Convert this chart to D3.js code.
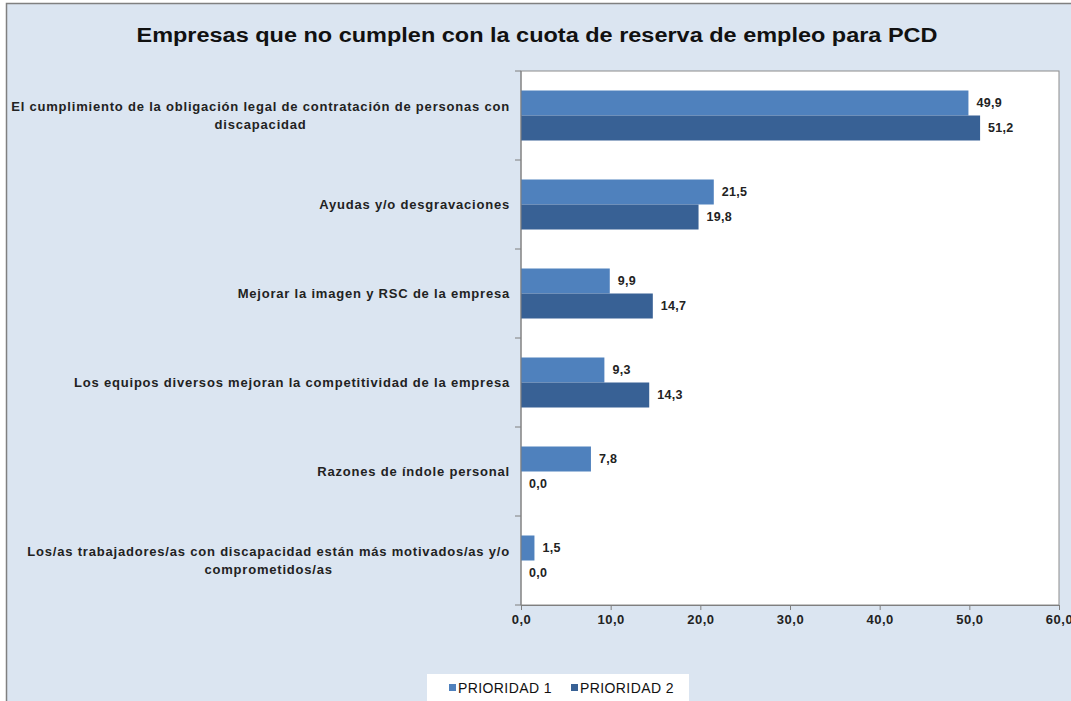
<!DOCTYPE html>
<html>
<head>
<meta charset="utf-8">
<script src="https://cdn.jsdelivr.net/npm/d3@7"></script>
<style>
  html, body { margin: 0; padding: 0; background: #ffffff; }
  svg { display: block; font-family: "Liberation Sans", Arial, sans-serif; }
</style>
</head>
<body>
<svg id="chart" width="1071" height="701"></svg>
<script>
// Chart content
const title = "Empresas que no cumplen con la cuota de reserva de empleo para PCD";
const categories = [
  ["El cumplimiento de la obligación legal de contratación de personas con", "discapacidad"],
  ["Ayudas y/o desgravaciones"],
  ["Mejorar la imagen y RSC de la empresa"],
  ["Los equipos diversos mejoran la competitividad de la empresa "],
  ["Razones de índole personal"],
  ["Los/as trabajadores/as con discapacidad están más motivados/as y/o", "comprometidos/as"]
];
const seriesNames = ["PRIORIDAD 1", "PRIORIDAD 2"];
const prioridad1 = [49.9, 21.5, 9.9, 9.3, 7.8, 1.5];
const prioridad2 = [51.2, 19.8, 14.7, 14.3, 0.0, 0.0];
const xTicks = [0, 10, 20, 30, 40, 50, 60];

const colors = ["#4f81bd", "#386195"];
const values = [prioridad1, prioridad2];

const svg = d3.select("#chart");
const plot = { left: 521, right: 1059, top: 71, bottom: 605 };

const locale = d3.formatLocale({ decimal: ",", thousands: ".", grouping: [3], currency: ["", "€"] });
const fmt = locale.format(".1f");

// Chart area background
svg.append("rect")
  .attr("x", 6.5).attr("y", 3.5)
  .attr("width", 1100).attr("height", 720)
  .attr("fill", "#dbe5f1")
  .attr("stroke", "#808080").attr("stroke-width", 1.5);

// Title
svg.append("text")
  .attr("x", 537).attr("y", 42)
  .attr("text-anchor", "middle")
  .attr("font-size", 20).attr("font-weight", "bold")
  .attr("fill", "#111")
  .attr("textLength", 801).attr("lengthAdjust", "spacingAndGlyphs")
  .text(title);

// Plot area
svg.append("rect")
  .attr("x", plot.left).attr("y", plot.top)
  .attr("width", plot.right - plot.left).attr("height", plot.bottom - plot.top)
  .attr("fill", "#ffffff")
  .attr("stroke", "#8c8c8c").attr("stroke-width", 1);

const x = d3.scaleLinear().domain([0, 60]).range([plot.left, plot.right]);
const idx = d3.range(categories.length);
const y0 = d3.scaleBand().domain(idx).range([plot.top, plot.bottom]).padding(0);
const y1 = d3.scaleBand().domain(d3.range(seriesNames.length))
  .range([0, y0.bandwidth()]).paddingInner(0).paddingOuter(0.78);

// Bars
seriesNames.forEach((s, si) => {
  svg.append("g").selectAll("rect")
    .data(idx)
    .join("rect")
    .attr("x", x(0))
    .attr("y", i => y0(i) + y1(si))
    .attr("width", i => x(values[si][i]) - x(0))
    .attr("height", y1.bandwidth())
    .attr("fill", colors[si]);
  // Value labels
  svg.append("g").selectAll("text")
    .data(idx)
    .join("text")
    .attr("x", i => x(values[si][i]) + 8)
    .attr("y", i => y0(i) + y1(si) + y1.bandwidth() / 2)
    .attr("dy", "0.35em")
    .attr("font-size", 12.5).attr("font-weight", "bold")
    .attr("fill", "#222")
    .attr("letter-spacing", 0.3)
    .text(i => fmt(values[si][i]));
});

// Y axis with ticks at category boundaries
const yAxis = svg.append("g");
yAxis.append("line")
  .attr("x1", plot.left).attr("x2", plot.left)
  .attr("y1", plot.top).attr("y2", plot.bottom)
  .attr("stroke", "#7f7f7f");
yAxis.selectAll("line.tick")
  .data(d3.range(categories.length + 1))
  .join("line").attr("class", "tick")
  .attr("x1", plot.left - 6).attr("x2", plot.left)
  .attr("y1", i => i < categories.length ? y0(i) : plot.bottom)
  .attr("y2", i => i < categories.length ? y0(i) : plot.bottom)
  .attr("stroke", "#7f7f7f");

// Category labels: lines centered on each other, block right-aligned
const labelRight = 510;
idx.forEach(i => {
  const lines = categories[i];
  const g = svg.append("g");
  const lh = 18;
  const cy = y0(i) + y0.bandwidth() / 2;
  const texts = lines.map((ln, k) => g.append("text")
    .attr("y", cy + (k - (lines.length - 1) / 2) * lh)
    .attr("dy", "0.35em")
    .attr("font-size", 13).attr("font-weight", "bold")
    .attr("letter-spacing", 0.8)
    .attr("fill", "#222")
    .attr("text-anchor", "middle")
    .text(ln));
  const widths = texts.map(t => t.node().getComputedTextLength());
  const w = d3.max(widths);
  texts.forEach(t => t.attr("x", labelRight - w / 2));
});

// X axis
const xAxis = svg.append("g").attr("transform", `translate(0,${plot.bottom})`)
  .call(d3.axisBottom(x).tickValues(xTicks).tickSize(5).tickSizeOuter(0).tickFormat(fmt));
xAxis.select(".domain").attr("stroke", "#7f7f7f");
xAxis.selectAll(".tick line").attr("stroke", "#7f7f7f");
xAxis.selectAll(".tick text")
  .attr("font-family", "'Liberation Sans', Arial, sans-serif")
  .attr("font-size", 13).attr("font-weight", "bold")
  .attr("fill", "#222").attr("letter-spacing", 0.5)
  .attr("y", 10);

// Legend
const legend = svg.append("g");
legend.append("rect")
  .attr("x", 427).attr("y", 674).attr("width", 262).attr("height", 40)
  .attr("fill", "#ffffff");
const legendPos = [449, 571];
seriesNames.forEach((s, si) => {
  legend.append("rect")
    .attr("x", legendPos[si]).attr("y", 684)
    .attr("width", 7).attr("height", 7)
    .attr("fill", colors[si]);
  legend.append("text")
    .attr("x", legendPos[si] + 9).attr("y", 688)
    .attr("dy", "0.35em")
    .attr("font-size", 14)
    .attr("letter-spacing", 0.4)
    .attr("fill", "#111")
    .text(s);
});
</script>
</body>
</html>
